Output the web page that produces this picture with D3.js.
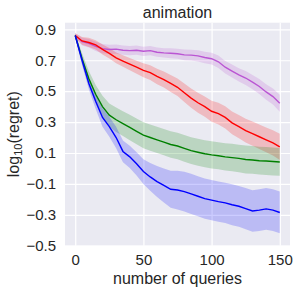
<!DOCTYPE html>
<html><head><meta charset="utf-8">
<script src="https://cdn.jsdelivr.net/npm/d3@7"></script>
<style>body{margin:0;background:#fff;}svg{display:block;font-family:"Liberation Sans",Arial,sans-serif;}</style>
</head><body>
<svg id="c" width="299" height="293"></svg>
<script>
const queries = [0,5,10,15,20,25,30,35,40,45,50,55,60,65,70,75,80,85,90,95,100,105,110,115,120,125,130,135,140,145,150];
const purpleMean = [.86,.82,.81,.79,.775,.77,.772,.765,.762,.765,.758,.762,.752,.748,.745,.742,.735,.733,.728,.718,.71,.69,.655,.63,.605,.585,.558,.53,.495,.465,.422];
const purpleSpread = [.015,.025,.028,.03,.03,.03,.03,.03,.03,.03,.03,.03,.03,.03,.032,.033,.035,.035,.036,.037,.038,.04,.04,.042,.043,.045,.046,.048,.05,.052,.055];
const redMean = [.86,.825,.815,.80,.77,.745,.715,.695,.675,.655,.635,.62,.595,.575,.55,.525,.49,.455,.425,.40,.37,.355,.33,.295,.27,.245,.225,.205,.185,.165,.14];
const redSpread = [.015,.025,.03,.03,.032,.034,.035,.037,.04,.042,.045,.047,.05,.052,.055,.057,.06,.062,.064,.066,.068,.07,.072,.074,.075,.077,.078,.08,.08,.082,.085];
const greenMean = [.86,.71,.58,.48,.40,.345,.315,.29,.265,.24,.215,.20,.185,.17,.155,.145,.13,.115,.105,.095,.088,.082,.075,.07,.065,.058,.055,.05,.048,.045,.042];
const greenSpread = [.015,.035,.05,.06,.07,.075,.08,.08,.082,.083,.084,.085,.085,.085,.086,.086,.086,.087,.087,.087,.088,.088,.088,.089,.089,.09,.09,.09,.09,.09,.09];
const blueMean = [.86,.70,.55,.435,.33,.27,.20,.11,.075,.03,-.02,-.055,-.085,-.11,-.135,-.14,-.15,-.165,-.18,-.195,-.205,-.215,-.223,-.235,-.245,-.26,-.275,-.27,-.262,-.27,-.285];
const blueSpread = [.015,.03,.04,.05,.06,.065,.07,.07,.072,.075,.08,.09,.1,.11,.12,.125,.128,.13,.13,.13,.13,.13,.13,.132,.132,.133,.134,.135,.135,.135,.135];
const xTicks = [0,50,100,150];
const yTicks = [-0.5,-0.3,-0.1,0.1,0.3,0.5,0.7,0.9];

const series = [
  {mean: purpleMean, spread: purpleSpread, color: "#BA55D3"},
  {mean: redMean, spread: redSpread, color: "#FF0000"},
  {mean: greenMean, spread: greenSpread, color: "#008000"},
  {mean: blueMean, spread: blueSpread, color: "#0000FF"}
];

const svg = d3.select("#c");
const L = 65, R = 290, T = 22.7, B = 245.7;
const x = d3.scaleLinear().domain([-7.5, 157.5]).range([L, R]);
const y = d3.scaleLinear().domain([-0.5, 0.943]).range([B, T]);

svg.append("rect").attr("x", L).attr("y", T).attr("width", R - L).attr("height", B - T).attr("fill", "#EAEAF2");

const gx = svg.append("g").attr("transform", `translate(0,${B})`)
  .call(d3.axisBottom(x).tickValues(xTicks).tickSize(-(B - T)).tickPadding(9).tickFormat(d3.format("d")));
const gy = svg.append("g").attr("transform", `translate(${L},0)`)
  .call(d3.axisLeft(y).tickValues(yTicks).tickSize(-(R - L)).tickPadding(9).tickFormat(d => d3.format(".1f")(d).replace("-", "\u2212")));
[gx, gy].forEach(g => {
  g.select(".domain").remove();
  g.selectAll(".tick line").attr("stroke", "#fff").attr("stroke-width", 1.2);
  g.selectAll(".tick text").attr("fill", "#262626").style("font-size", "15px");
});

const area = d3.area().x((d, i) => x(queries[i])).y0(d => y(d[0])).y1(d => y(d[1]));
const line = d3.line().x((d, i) => x(queries[i])).y(d => y(d));
series.forEach(s => {
  const band = s.mean.map((m, i) => [m - s.spread[i], m + s.spread[i]]);
  svg.append("path").datum(band).attr("d", area).attr("fill", s.color).attr("fill-opacity", 0.2).attr("stroke", "none");
});
series.forEach(s => {
  svg.append("path").datum(s.mean).attr("d", line).attr("fill", "none").attr("stroke", s.color).attr("stroke-width", 1.4);
});

svg.append("text").attr("x", (L + R) / 2).attr("y", 17.7).attr("text-anchor", "middle")
  .attr("fill", "#262626").style("font-size", "16px").text("animation");
svg.append("text").attr("x", (L + R) / 2).attr("y", 283.5).attr("text-anchor", "middle")
  .attr("fill", "#262626").style("font-size", "16px").text("number of queries");
const yl = svg.append("text").attr("transform", `translate(19,${(T + B) / 2}) rotate(-90)`).attr("text-anchor", "middle")
  .attr("fill", "#262626").style("font-size", "16px");
yl.append("tspan").text("log");
yl.append("tspan").attr("dy", 3).style("font-size", "11px").text("10");
yl.append("tspan").attr("dy", -3).text("(regret)");
</script>
</body></html>
